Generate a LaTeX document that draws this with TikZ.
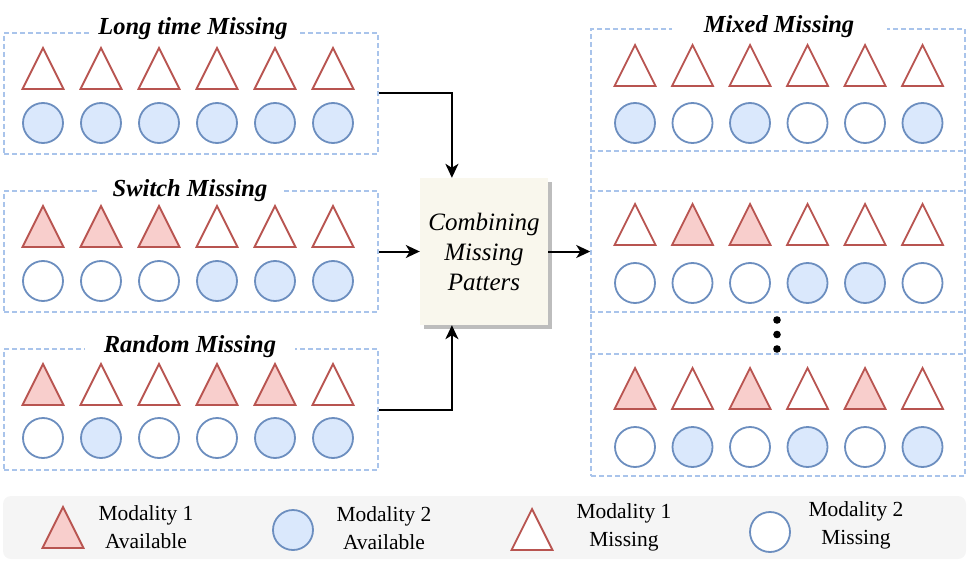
\documentclass[tikz,border=0pt]{standalone}
\usepackage{fontspec}
\setmainfont{Liberation Serif}
\usetikzlibrary{arrows.meta,shadows,calc}
\definecolor{rs}{HTML}{B85450}
\definecolor{rf}{HTML}{F8CECC}
\definecolor{bs}{HTML}{6C8EBF}
\definecolor{bf}{HTML}{DAE8FC}
\definecolor{dashc}{HTML}{A9C4EB}
\definecolor{combc}{HTML}{F9F7ED}
\definecolor{shadc}{HTML}{BDBDBD}
\definecolor{legc}{HTML}{F5F5F5}
\colorlet{w}{white}
\tikzset{
  tri/.style={draw=rs, line width=1.8pt, line join=miter},
  circ/.style={draw=bs, line width=1.8pt},
  dashln/.style={draw=dashc, dash pattern=on 5pt off 3pt, line width=1.5pt},
  panel/.style={dashln, minimum width=374pt, minimum height=121pt, inner sep=0pt},
  title/.style={fill=white, font=\fontsize{24.5}{30}\selectfont\bfseries\itshape, anchor=base, inner xsep=0pt, inner ysep=3pt},
  arr/.style={-{Stealth[length=14pt,width=13pt,inset=4pt]}, line width=2pt},
  combbox/.style={fill=combc, minimum width=128pt, minimum height=147pt, align=center, inner sep=0pt,
    font=\fontsize{25}{30}\selectfont\itshape,
    drop shadow={shadow xshift=4pt, shadow yshift=-4pt, fill=shadc, opacity=1}},
  legbox/.style={fill=legc, rounded corners=8pt, minimum width=963pt, minimum height=63pt, inner sep=0pt},
  legtext/.style={font=\fontsize{21.5}{28}\selectfont, align=center},
}
\newcommand\mtri[3]{\draw[tri,fill=#3] ({#1-20.5},{#2+41}) -- ({#1},{#2}) -- ({#1+20.5},{#2+41}) -- cycle;}
\newcommand\trirow[4]{\foreach \c [count=\i from 0] in {#4} {\mtri{#1+#2*\i}{#3}{\c}}}
\newcommand\circrow[4]{\foreach \c [count=\i from 0] in {#4} {\draw[circ,fill=\c] ({#1+#2*\i},{#3}) circle[radius=20];}}
\begin{document}
\begin{tikzpicture}[x=1pt,y=-1pt]
\useasboundingbox (0,0) rectangle (969,567);
% left panels
\node[panel] (long) at (191,93.5) {};
\node[panel] (switch) at (191,251.5) {};
\node[panel] (random) at (191,409.5) {};
\node[title, minimum width=208pt] (tlong) at (193,35) {Long time Missing};
\node[title, minimum width=186pt] (tswitch) at (190,196) {Switch Missing};
\node[title, minimum width=210pt] (trandom) at (190,352) {Random Missing};
\trirow{43}{58}{48}{w,w,w,w,w,w}
\circrow{43}{58}{123}{bf,bf,bf,bf,bf,bf}
\trirow{43}{58}{206}{rf,rf,rf,w,w,w}
\circrow{43}{58}{281}{w,w,w,bf,bf,bf}
\trirow{43}{58}{364}{rf,w,w,rf,rf,w}
\circrow{43}{58}{438}{w,bf,w,w,bf,bf}
% combining box
\node[combbox] (comb) at (484,251.5) {Combining\\Missing\\Patters};
% right panel
\node[dashln, minimum width=374pt, minimum height=447pt, inner sep=0pt] (mixed) at (778,252.5) {};
\foreach \yy in {151,191,312,354} \draw[dashln] (mixed.west |- 0,\yy) -- (mixed.east |- 0,\yy);
\node[title, minimum width=215pt] (tmixed) at (779,33) {Mixed Missing};
\trirow{635}{57.5}{45}{w,w,w,w,w,w}
\circrow{635}{57.5}{123}{bf,w,bf,w,w,bf}
\trirow{635}{57.5}{204}{w,rf,rf,w,w,w}
\circrow{635}{57.5}{283}{w,w,w,bf,bf,w}
\trirow{635}{57.5}{368}{rf,w,rf,w,rf,w}
\circrow{635}{57.5}{447}{w,bf,w,bf,w,bf}
\foreach \yy in {320,334.5,349} \fill (777,\yy) circle[radius=3.8];
% arrows
\draw[arr] (long.east) -| ($(comb.north west)!0.25!(comb.north east)$);
\draw[arr] (switch.east) -- (switch.east -| comb.west);
\draw[arr] (random.east) -| ($(comb.south west)!0.25!(comb.south east)$);
\draw[arr] (comb.east) -- (comb.east -| mixed.west);
% legend
\node[legbox] (leg) at (484.5,527.5) {};
\mtri{63}{507}{rf}
\draw[circ,fill=bf] (293,530) circle[radius=20];
\mtri{532}{509}{w}
\draw[circ,fill=w] (770,532) circle[radius=20];
\node[legtext] (l1) at (146,527) {Modality 1\\Available};
\node[legtext] (l2) at (384,528) {Modality 2\\Available};
\node[legtext] (l3) at (624,527) {Modality 1\\Missing};
\node[legtext] (l4) at (856,525) {Modality 2\\Missing};
\end{tikzpicture}
\end{document}
